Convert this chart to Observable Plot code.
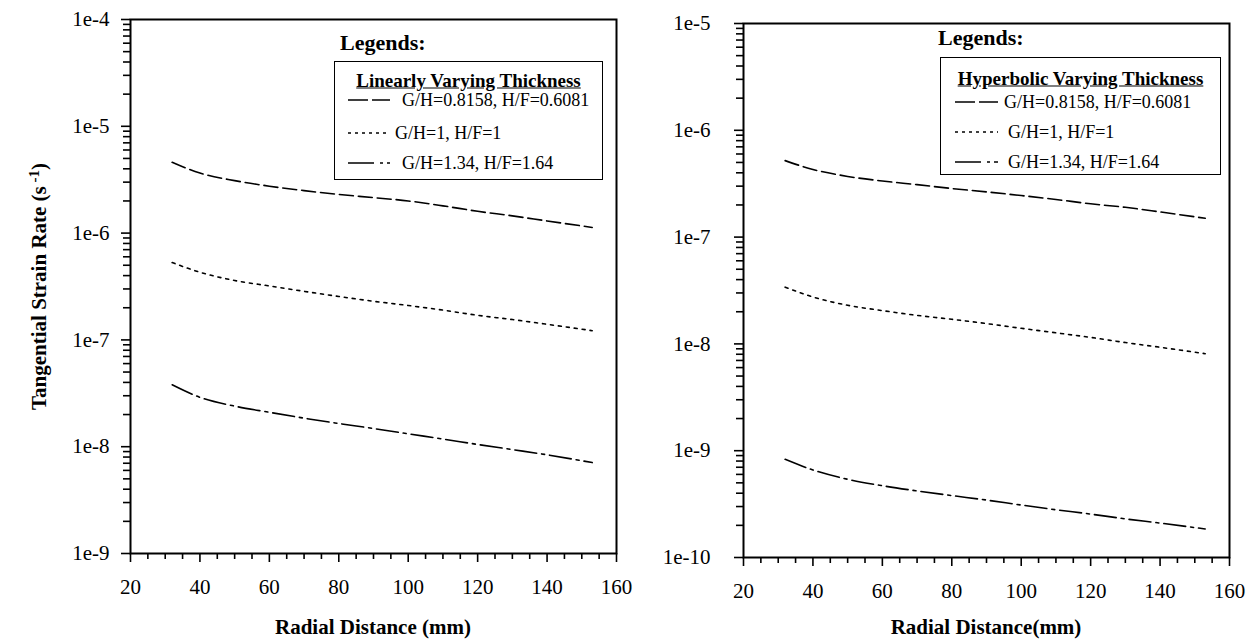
<!DOCTYPE html>
<html>
<head>
<meta charset="utf-8">
<script src="https://cdn.jsdelivr.net/npm/d3@7"></script>
<script src="https://cdn.jsdelivr.net/npm/@observablehq/plot@0.6"></script>
<style>
  body { margin: 0; background: #fff; }
  #root { position: relative; width: 1252px; height: 640px; overflow: hidden; background: #fff; font-family: "Liberation Serif", serif; color: #000; }
  .chart { position: absolute; top: 0; }
  .abs { position: absolute; white-space: nowrap; line-height: 1; }
  .ytitle { font-weight: bold; font-size: 21px; transform-origin: center center; }
  .xtitle { font-weight: bold; font-size: 21px; transform: translate(-50%, -50%); }
  .legtitle { font-weight: bold; font-size: 22px; transform: translateY(-50%); }
  .legbox { position: absolute; border: 1.5px solid #000; box-sizing: border-box; background: #fff; }
  .boxtitle { font-weight: bold; font-size: 19px; text-decoration: underline; transform: translate(-50%, -50%); }
  .entry { font-size: 18px; transform: translateY(-50%); }
</style>
</head>
<body>
<div id="root"></div>
<script>
// ---------- data ----------
const radius = [32, 40, 50, 60, 70, 80, 90, 100, 110, 120, 130, 140, 153];

// Left panel: Linearly Varying Thickness
const linA = [4.6e-6, 3.65e-6, 3.1e-6, 2.75e-6, 2.5e-6, 2.3e-6, 2.15e-6, 2.0e-6, 1.8e-6, 1.6e-6, 1.45e-6, 1.3e-6, 1.13e-6];
const linB = [5.3e-7, 4.3e-7, 3.6e-7, 3.2e-7, 2.85e-7, 2.55e-7, 2.3e-7, 2.1e-7, 1.9e-7, 1.7e-7, 1.55e-7, 1.4e-7, 1.22e-7];
const linC = [3.8e-8, 2.9e-8, 2.4e-8, 2.1e-8, 1.85e-8, 1.65e-8, 1.48e-8, 1.32e-8, 1.18e-8, 1.05e-8, 9.4e-9, 8.4e-9, 7.1e-9];

// Right panel: Hyperbolic Varying Thickness
const hypA = [5.2e-7, 4.3e-7, 3.7e-7, 3.35e-7, 3.1e-7, 2.85e-7, 2.65e-7, 2.45e-7, 2.25e-7, 2.05e-7, 1.9e-7, 1.72e-7, 1.5e-7];
const hypB = [3.4e-8, 2.75e-8, 2.3e-8, 2.05e-8, 1.85e-8, 1.7e-8, 1.55e-8, 1.4e-8, 1.27e-8, 1.15e-8, 1.03e-8, 9.3e-9, 8.1e-9];
const hypC = [8.3e-10, 6.6e-10, 5.4e-10, 4.7e-10, 4.2e-10, 3.8e-10, 3.45e-10, 3.1e-10, 2.8e-10, 2.55e-10, 2.3e-10, 2.1e-10, 1.85e-10];

const seriesLabels = ["G/H=0.8158, H/F=0.6081", "G/H=1, H/F=1", "G/H=1.34, H/F=1.64"];
const dashes = ["14,5", "3,5", "22,5,3,5"];

const xMajor = [20, 40, 60, 80, 100, 120, 140, 160];
const xMinor = d3.range(25, 160, 5).filter(v => v % 20 !== 0);
const leftDecades = [-9, -8, -7, -6, -5, -4];
const rightDecades = [-10, -9, -8, -7, -6, -5];

const leftTitle = "Linearly Varying Thickness";
const rightTitle = "Hyperbolic Varying Thickness";
const xTitleLeft = "Radial Distance (mm)";
const xTitleRight = "Radial Distance(mm)";

// ---------- drawing ----------
function minorOf(decades) {
  const out = [];
  for (let i = 0; i < decades.length - 1; i++) {
    for (let k = 2; k <= 9; k++) out.push(k * Math.pow(10, decades[i]));
  }
  return out;
}

function makeChart(opts) {
  const { decades, values, mL, mR, mT, mB, pad } = opts;
  const majors = decades.map(e => Math.pow(10, e));
  const marks = [
    Plot.axisX({ticks: xMajor, tickSize: 9, tickPadding: 17, tickFormat: d => String(d), label: null, strokeWidth: 1.6, fontSize: 21}),
    Plot.axisX({ticks: xMinor, tickSize: 6, tickFormat: () => "", label: null, strokeWidth: 1.6}),
    Plot.axisY({ticks: majors, tickSize: 9, tickPadding: pad, tickFormat: d => "1e" + Math.round(Math.log10(d)), label: null, strokeWidth: 1.6, fontSize: 21}),
    Plot.axisY({ticks: minorOf(decades), tickSize: 7, tickFormat: () => "", label: null, strokeWidth: 1.6}),
    Plot.frame({stroke: "black", strokeWidth: 2})
  ];
  values.forEach((vals, i) => {
    const rows = radius.map((r, j) => ({x: r, y: vals[j]}));
    marks.push(Plot.line(rows, {x: "x", y: "y", stroke: "black", strokeWidth: 1.6, strokeDasharray: dashes[i], curve: "monotone-x"}));
  });
  return Plot.plot({
    width: 626, height: 640,
    marginLeft: mL, marginRight: mR, marginTop: mT, marginBottom: mB,
    style: {fontFamily: "'Liberation Serif', serif", fontSize: "21px", color: "black", background: "transparent", overflow: "visible"},
    x: {domain: [20, 160]},
    y: {type: "log", domain: [Math.pow(10, decades[0]), Math.pow(10, decades[decades.length - 1])]},
    marks
  });
}

const root = document.getElementById("root");

const left = makeChart({decades: leftDecades, values: [linA, linB, linC], mL: 130, mR: 10, mT: 19, mB: 87, pad: 12});
left.classList.add("chart");
left.style.left = "0px";
root.appendChild(left);

const right = makeChart({decades: rightDecades, values: [hypA, hypB, hypC], mL: 117, mR: 23, mT: 23, mB: 83, pad: 24});
right.classList.add("chart");
right.style.left = "626px";
root.appendChild(right);

function addDiv(cls, html, css) {
  const d = document.createElement("div");
  d.className = cls;
  d.innerHTML = html;
  Object.assign(d.style, css);
  root.appendChild(d);
  return d;
}

// axis titles
addDiv("abs xtitle", xTitleLeft, {left: "373px", top: "627px"});
addDiv("abs xtitle", xTitleRight, {left: "986px", top: "627px"});
const yt = addDiv("abs ytitle", 'Tangential Strain Rate (s<sup style="font-size:15px;vertical-align:7px"> -1</sup>)', {});
const ytw = yt.offsetWidth, yth = yt.offsetHeight;
yt.style.left = (38 - ytw / 2) + "px";
yt.style.top = (286 - yth / 2) + "px";
yt.style.transform = "rotate(-90deg)";

// legends
function legend(cfg) {
  addDiv("abs legtitle", "Legends:", {left: cfg.lx + "px", top: cfg.ly + "px"});
  const box = document.createElement("div");
  box.className = "legbox";
  Object.assign(box.style, {left: cfg.bx + "px", top: cfg.by + "px", width: cfg.bw + "px", height: cfg.bh + "px"});
  root.appendChild(box);
  addDiv("abs boxtitle", cfg.title, {left: (cfg.bx + cfg.bw / 2) + "px", top: cfg.ty + "px"});
  seriesLabels.forEach((lab, i) => {
    const y = cfg.ey[i];
    const ns = "http://www.w3.org/2000/svg";
    const svg = document.createElementNS(ns, "svg");
    svg.setAttribute("width", cfg.sw);
    svg.setAttribute("height", 6);
    Object.assign(svg.style, {position: "absolute", left: cfg.sx + "px", top: (y - 3) + "px"});
    const ln = document.createElementNS(ns, "line");
    ln.setAttribute("x1", 0); ln.setAttribute("x2", cfg.sw);
    ln.setAttribute("y1", 3); ln.setAttribute("y2", 3);
    ln.setAttribute("stroke", "black"); ln.setAttribute("stroke-width", 1.6);
    ln.setAttribute("stroke-dasharray", cfg.legDash[i]);
    svg.appendChild(ln);
    root.appendChild(svg);
    addDiv("abs entry", lab, {left: cfg.tx[i] + "px", top: y + "px"});
  });
}

legend({lx: 340, ly: 43, bx: 334, by: 61, bw: 269, bh: 119, title: leftTitle, ty: 80,
  ey: [100, 133, 163], sx: 348, sw: 42, tx: [402, 395, 402], legDash: ["20,4", "3,4", "26,6,3,4"]});
legend({lx: 938, ly: 38, bx: 940, by: 57, bw: 281, bh: 118, title: rightTitle, ty: 78,
  ey: [102, 132, 162], sx: 955, sw: 43, tx: [1004, 1008, 1008], legDash: ["20,4", "3,4", "26,6,3,4"]});
</script>
</body>
</html>
